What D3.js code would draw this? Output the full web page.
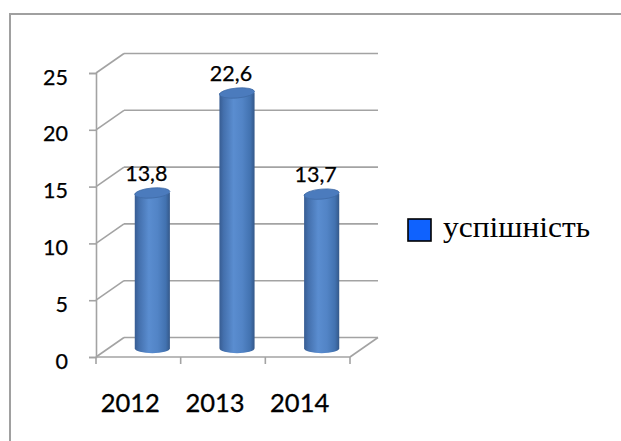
<!DOCTYPE html>
<html>
<head>
<meta charset="utf-8">
<script src="https://cdn.jsdelivr.net/npm/d3@7/dist/d3.min.js"></script>
<style>
  html, body { margin: 0; padding: 0; background: #fff; }
  svg { display: block; }
</style>
</head>
<body>
<script>
// ---- data ----
const categories = ["2012", "2013", "2014"];
const values = [13.8, 22.6, 13.7];
const valueLabels = ["13,8", "22,6", "13,7"];
const yTicks = [0, 5, 10, 15, 20, 25];
const seriesName = "успішність";

// ---- layout ----
const W = 621, H = 441;
const svg = d3.select("body").append("svg").attr("width", W).attr("height", H);

const x = d3.scaleBand().domain(categories).range([96, 350]).padding(0);
const y = d3.scaleLinear().domain([0, 25]).range([357, 73]);
const DX = 28, DY = -19.5;           // depth offset of the back wall
const gridColor = "#a3a3a3";
const sansFont = "Lato, 'Open Sans', sans-serif";

// outer border
svg.append("path")
  .attr("d", `M10,${H} L10,14 L${W},14`)
  .attr("fill", "none").attr("stroke", "#a0a0a0").attr("stroke-width", 2);

// gradient for cylinders
const defs = svg.append("defs");
const grad = defs.append("linearGradient").attr("id", "cyl").attr("x1", "0").attr("x2", "1").attr("y1", "0").attr("y2", "0");
[[0, "#375c92"], [0.12, "#4470ad"], [0.4, "#5a8dd0"], [0.65, "#5284c6"], [0.88, "#4272b0"], [1, "#345889"]]
  .forEach(([o, c]) => grad.append("stop").attr("offset", o).attr("stop-color", c));

const g = svg.append("g");

// back-wall gridlines and left-wall diagonals
yTicks.forEach(v => {
  g.append("line")
    .attr("x1", x.range()[0] + DX).attr("x2", x.range()[1] + DX)
    .attr("y1", y(v) + DY).attr("y2", y(v) + DY)
    .attr("stroke", gridColor).attr("stroke-width", 1.6);
  g.append("line")
    .attr("x1", x.range()[0]).attr("x2", x.range()[0] + DX)
    .attr("y1", y(v)).attr("y2", y(v) + DY)
    .attr("stroke", gridColor).attr("stroke-width", 1.6);
});

// floor front and right edge
g.append("line").attr("x1", x.range()[0]).attr("x2", x.range()[1])
  .attr("y1", y(0)).attr("y2", y(0)).attr("stroke", gridColor).attr("stroke-width", 1.6);
g.append("line").attr("x1", x.range()[1]).attr("x2", x.range()[1] + DX)
  .attr("y1", y(0)).attr("y2", y(0) + DY).attr("stroke", gridColor).attr("stroke-width", 1.6);

// vertical axis
const yAxis = d3.axisLeft(y).tickValues(yTicks).tickSize(7).tickPadding(21).tickFormat(d3.format("d"));
const ya = svg.append("g").attr("transform", `translate(${x.range()[0]},0)`).call(yAxis);
ya.select(".domain").attr("stroke", gridColor).attr("stroke-width", 1.6);
ya.selectAll(".tick line").attr("stroke", gridColor).attr("stroke-width", 1.6);
ya.selectAll(".tick text")
  .attr("font-family", sansFont).attr("font-size", 21.5)
  .attr("fill", "#000").attr("stroke", "#000").attr("stroke-width", 0.25).attr("dy", "0.52em");

// category axis
const xAxis = d3.axisBottom(x).tickSize(0).tickFormat("");
const xa = svg.append("g").attr("transform", `translate(0,${y(0)})`).call(xAxis);
xa.select(".domain").remove();
const tickXs = [...categories.map(c => x(c)), x.range()[1]];
tickXs.forEach(tx => {
  svg.append("line").attr("x1", tx).attr("x2", tx).attr("y1", y(0)).attr("y2", y(0) + 7)
    .attr("stroke", gridColor).attr("stroke-width", 1.6);
});
svg.selectAll(".cat").data(categories).enter().append("text")
  .attr("x", d => x(d) + x.bandwidth() / 2 - 8)
  .attr("y", 412)
  .attr("text-anchor", "middle")
  .attr("font-family", sansFont).attr("font-size", 25.5)
  .attr("fill", "#000").attr("stroke", "#000").attr("stroke-width", 0.3)
  .text(d => d);

// cylinders
const bw = x.bandwidth() * 0.415;
const ry = 5;
const bars = svg.selectAll(".bar").data(values).enter().append("g");
bars.each(function (v, i) {
  const cx = x(categories[i]) + x.bandwidth() / 2 + DX / 2;
  const yTop = y(v) + DY / 2 + 2.5;
  const yBot = y(0) + DY / 2 + 1;
  const gg = d3.select(this);
  gg.append("path")
    .attr("d", `M${cx - bw / 2},${yTop} L${cx - bw / 2},${yBot}
                A${bw / 2},${ry} 0 0 0 ${cx + bw / 2},${yBot}
                L${cx + bw / 2},${yTop} Z`)
    .attr("fill", "url(#cyl)");
  gg.append("ellipse")
    .attr("cx", cx).attr("cy", yTop).attr("rx", bw / 2).attr("ry", ry)
    .attr("transform", `rotate(-5,${cx},${yTop})`)
    .attr("fill", "#4b7bbd").attr("stroke", "#3f6aa6").attr("stroke-width", 0.8);
  svg.append("text")
    .attr("x", cx - 6).attr("y", yTop - ry - 7)
    .attr("text-anchor", "middle")
    .attr("font-family", sansFont).attr("font-size", 21.5)
    .attr("fill", "#000").attr("stroke", "#000").attr("stroke-width", 0.25)
    .text(valueLabels[i]);
});

// legend
const lg = svg.append("g");
lg.append("rect").attr("x", 408).attr("y", 219).attr("width", 23).attr("height", 22)
  .attr("fill", "#0f62fe").attr("stroke", "#000").attr("stroke-width", 1.6);
lg.append("text").attr("x", 443).attr("y", 237)
  .style("font-family", "'Liberation Serif', 'Times New Roman', serif")
  .attr("font-size", 30)
  .attr("textLength", 147).attr("lengthAdjust", "spacingAndGlyphs")
  .attr("fill", "#000").text(seriesName);
</script>
</body>
</html>
